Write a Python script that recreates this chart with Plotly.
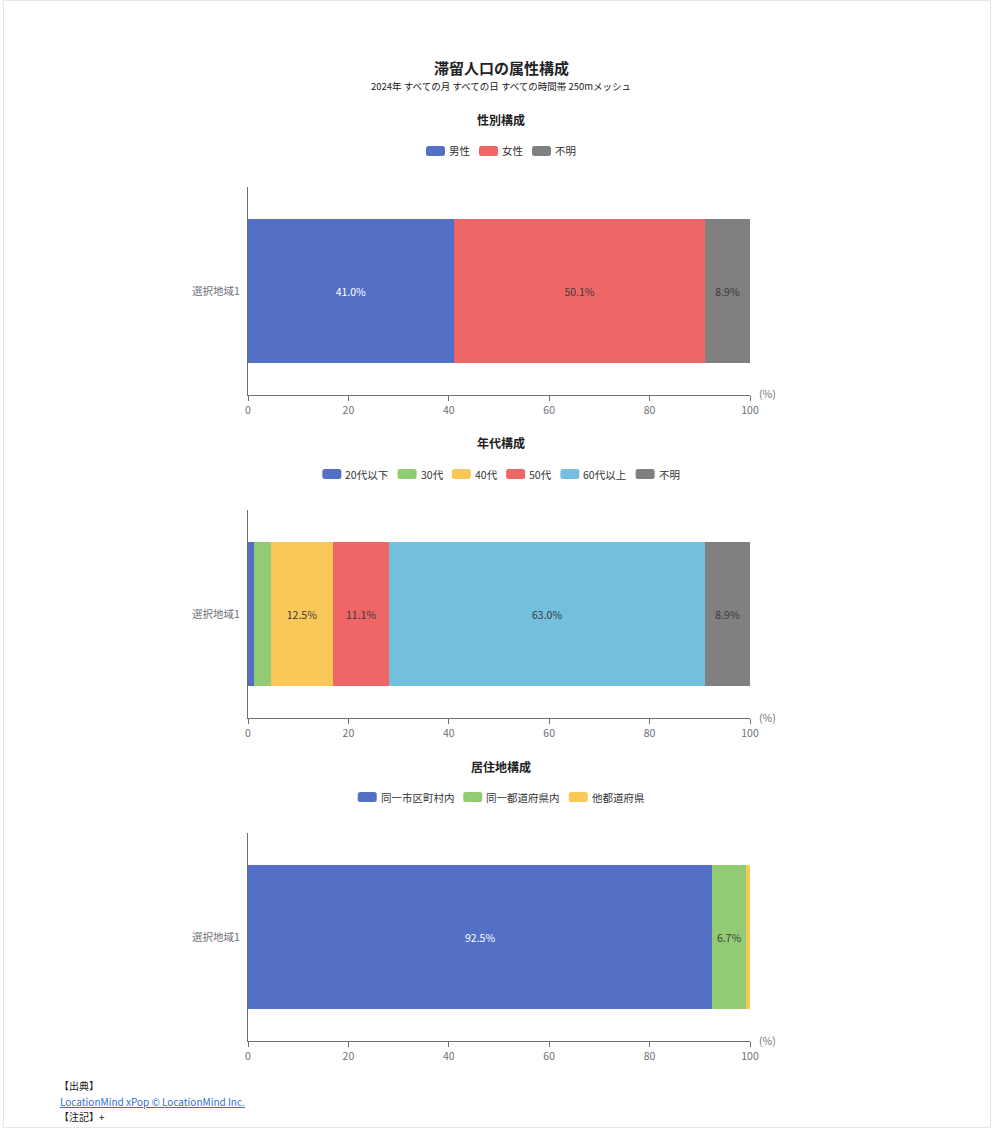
import plotly.graph_objects as go

H = 1128
X_OFF, WEFF = 2, 988  # effective rendered horizontal placement of the page
FONT = "Noto Sans CJK JP"

region = ["選択地域1"]

sex_names = ["男性", "女性", "不明"]
sex_values = [41.0, 50.1, 8.9]
sex_colors = ["#5470c6", "#ee6666", "#808080"]

age_names = ["20代以下", "30代", "40代", "50代", "60代以上", "不明"]
age_values = [1.2, 3.3, 12.5, 11.1, 63.0, 8.9]
age_colors = ["#5470c6", "#91cc75", "#fac858", "#ee6666", "#73c0de", "#808080"]

res_names = ["同一市区町村内", "同一都道府県内", "他都道府県"]
res_values = [92.5, 6.7, 0.8]
res_colors = ["#5470c6", "#91cc75", "#fac858"]

title = "滞留人口の属性構成"
subtitle = "2024年 すべての月 すべての日 すべての時間帯 250mメッシュ"
section_titles = ["性別構成", "年代構成", "居住地構成"]
x_ticks = [0, 20, 40, 60, 80, 100]


def py(px):
    return 1 - px / H


def pxx(px):
    return (px - X_OFF) / WEFF


fig = go.Figure()

groups = [
    (sex_names, sex_values, sex_colors, "x", "y"),
    (age_names, age_values, age_colors, "x2", "y2"),
    (res_names, res_values, res_colors, "x3", "y3"),
]

for names, values, colors, xa, ya in groups:
    for n, v, c in zip(names, values, colors):
        txtcolor = "#ffffff" if c == "#5470c6" else "#3a3a3a"
        fig.add_trace(go.Bar(
            name=n, y=region, x=[v], orientation="h",
            marker=dict(color=c, line=dict(width=0)),
            text=[f"{v:.1f}%" if v >= 5 else ""],
            textposition="inside", insidetextanchor="middle", textangle=0,
            textfont=dict(color=txtcolor, size=10.5, family=FONT),
            hovertemplate=f"{n}: %{{x:.1f}}%<extra></extra>",
            xaxis=xa, yaxis=ya, showlegend=False,
        ))

spans = [(187, 395), (510, 718), (833, 1041)]
legend_y = [151, 474, 797]
section_y = [119, 442, 766]

axis_common_x = dict(
    range=[0, 100], tickvals=x_ticks, showgrid=False, zeroline=False,
    showline=True, linecolor="#6e7079", linewidth=1,
    ticks="outside", ticklen=5, tickcolor="#6e7079",
    tickfont=dict(color="#6e7079", size=10.5, family=FONT),
    domain=[pxx(247), pxx(749)], fixedrange=True,
)
axis_common_y = dict(
    showgrid=False, zeroline=False, showline=True, linecolor="#6e7079",
    linewidth=1, ticks="", ticklabelstandoff=5,
    tickfont=dict(color="#6e7079", size=10.5, family=FONT),
    fixedrange=True,
)

layout = dict(
    height=H, autosize=True, margin=dict(l=0, r=0, t=0, b=0),
    paper_bgcolor="white", plot_bgcolor="white",
    barmode="stack", bargap=0.308,
    font=dict(family=FONT, color="#333333"),
    showlegend=False,
    uniformtext=dict(minsize=10.5, mode="show"),
)
for i, (top, bot) in enumerate(spans):
    sfx = "" if i == 0 else str(i + 1)
    xa = dict(axis_common_x)
    xa["anchor"] = "y" + sfx
    ya = dict(axis_common_y)
    ya["anchor"] = "x" + sfx
    ya["domain"] = [py(bot), py(top)]
    layout["xaxis" + sfx] = xa
    layout["yaxis" + sfx] = ya

fig.update_layout(**layout)

annotations = [
    dict(text=f"<b>{title}</b>", x=pxx(500), y=py(67), font=dict(size=15, color="#222222")),
    dict(text=subtitle, x=pxx(500), y=py(86), font=dict(size=9.5, color="#222222")),
]
for t, yy in zip(section_titles, section_y):
    annotations.append(dict(text=f"<b>{t}</b>", x=pxx(500), y=py(yy), font=dict(size=12, color="#222222")))
for top, bot in spans:
    annotations.append(dict(text="(%)", x=pxx(756), y=py(bot - 1), xanchor="left",
                            font=dict(size=10.5, color="#6e7079")))

# custom legends (echarts style: rounded rect symbol + label)
LFS = 10.5
SYM_W, SYM_H, SYM_GAP, ITEM_GAP, R = 19, 10, 4, 9, 2.5


def text_w(s):
    return sum(LFS * 0.56 if ord(ch) < 128 else LFS for ch in s)


def rrect_path(x0, y0, x1, y1, r):
    X = pxx
    Y = py
    return (f"M{X(x0 + r)},{Y(y0)} L{X(x1 - r)},{Y(y0)} Q{X(x1)},{Y(y0)} {X(x1)},{Y(y0 + r)} "
            f"L{X(x1)},{Y(y1 - r)} Q{X(x1)},{Y(y1)} {X(x1 - r)},{Y(y1)} "
            f"L{X(x0 + r)},{Y(y1)} Q{X(x0)},{Y(y1)} {X(x0)},{Y(y1 - r)} "
            f"L{X(x0)},{Y(y0 + r)} Q{X(x0)},{Y(y0)} {X(x0 + r)},{Y(y0)} Z")


shapes = []
for (names, values, colors, xa, ya), ly in zip(groups, legend_y):
    widths = [SYM_W + SYM_GAP + text_w(n) for n in names]
    total = sum(widths) + ITEM_GAP * (len(names) - 1)
    x = 500 - total / 2
    for n, c, w in zip(names, colors, widths):
        shapes.append(dict(type="path", xref="paper", yref="paper",
                           path=rrect_path(x, ly - SYM_H / 2, x + SYM_W, ly + SYM_H / 2, R),
                           fillcolor=c, line=dict(width=0)))
        annotations.append(dict(text=n, x=pxx(x + SYM_W + SYM_GAP - 2), y=py(ly), xanchor="left",
                                font=dict(size=LFS, color="#333333")))
        x += w + ITEM_GAP

annotations += [
    dict(text="【出典】", x=pxx(56), y=py(1085), xanchor="left", font=dict(size=10, color="#222222")),
    dict(text='<a href="https://www.locationmind.com/" style="color:#2f6fd6"><u>LocationMind xPop © LocationMind Inc.</u></a>',
         x=pxx(57), y=py(1101), xanchor="left", font=dict(size=10, color="#2f6fd6")),
    dict(text="【注記】+", x=pxx(56), y=py(1116), xanchor="left", font=dict(size=10, color="#222222")),
]
for a in annotations:
    a.setdefault("xref", "paper")
    a.setdefault("yref", "paper")
    a.setdefault("showarrow", False)
    a.setdefault("yanchor", "middle")
    a.setdefault("xanchor", "center")
    a["font"].setdefault("family", FONT)

shapes.append(dict(type="rect", xref="paper", yref="paper", x0=0.0005, x1=0.9995, y0=0.0005, y1=0.9995,
                   line=dict(color="#e6e6e6", width=1), fillcolor="rgba(0,0,0,0)", layer="below"))
fig.update_layout(annotations=annotations, shapes=shapes)

fig.write_html(
    "out.html",
    config={"displayModeBar": False, "responsive": True},
    default_width="100%", default_height="1128px",
)
